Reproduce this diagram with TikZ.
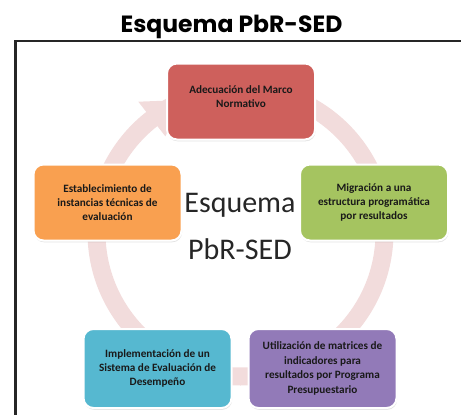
\documentclass[tikz,border=0pt]{standalone}
\usepackage{fontspec}
\setmainfont{Carlito}
\newfontfamily\titlefont{Poppins}
\usetikzlibrary{shadows,calc}
\definecolor{ringpink}{RGB}{242,220,220}
\definecolor{cred}{RGB}{206,96,92}
\definecolor{corange}{RGB}{249,160,80}
\definecolor{cgreen}{RGB}{165,196,96}
\definecolor{ccyan}{RGB}{86,184,208}
\definecolor{cpurple}{RGB}{146,122,184}
\definecolor{ctext}{RGB}{25,25,25}
\tikzset{
  stagebox/.style={draw=white, line width=2pt, rounded corners=10pt,
    minimum width=148pt, minimum height=76pt, align=center,
    text=ctext, font=\bfseries\fontsize{11.2}{13.8}\selectfont,
    drop shadow={opacity=0.22, shadow xshift=0.6pt, shadow yshift=-1.8pt}},
  centertext/.style={font=\fontsize{30}{36}\selectfont, text=black!85, inner sep=0pt}
}
\begin{document}
\begin{tikzpicture}[x=1pt,y=-1pt]
\useasboundingbox (0,0) rectangle (461,415);
% frame
\draw[line width=2.4pt, black!85] (15.5,415) -- (15.5,41) -- (461,41);
% title
\node[anchor=base, inner sep=0pt, font=\titlefont\bfseries\fontsize{23.5}{28}\selectfont] (title) at (231.5,32) {Esquema PbR-SED};
% ring
\coordinate (ctr) at (240.5,232.5);
\draw[ringpink, line width=18pt] (ctr) circle[radius=144];
% arrowhead on ring (orange -> red)
\fill[ringpink] ($(ctr)+(232:122)$) -- ($(ctr)+(232:166)$) -- ($(ctr)+(247:144)$) -- cycle;
% boxes
\node[stagebox, fill=cred, text depth=10pt] (red) at (241,101.5) {Adecuación del Marco\\Normativo};
\node[stagebox, fill=cgreen] (green) at (374,202.5) {Migración a una\\estructura programática\\por resultados};
\node[stagebox, fill=corange] (orange) at (107.5,202.5) {Establecimiento de\\instancias técnicas de\\evaluación};
\node[stagebox, fill=ccyan, minimum height=79pt] (cyan) at (157.5,368.5) {Implementación de un\\Sistema de Evaluación de\\Desempeño};
\node[stagebox, fill=cpurple, minimum height=79pt, font=\bfseries\fontsize{11.2}{14.5}\selectfont] (purple) at (322.5,368.5) {Utilización de matrices de\\indicadores para\\resultados por Programa\\Presupuestario};
% center text
\node[centertext, anchor=base] (c1) at (240,212) {Esquema};
\node[centertext, anchor=base] (c2) at (240,259) {PbR-SED};
\end{tikzpicture}
\end{document}
